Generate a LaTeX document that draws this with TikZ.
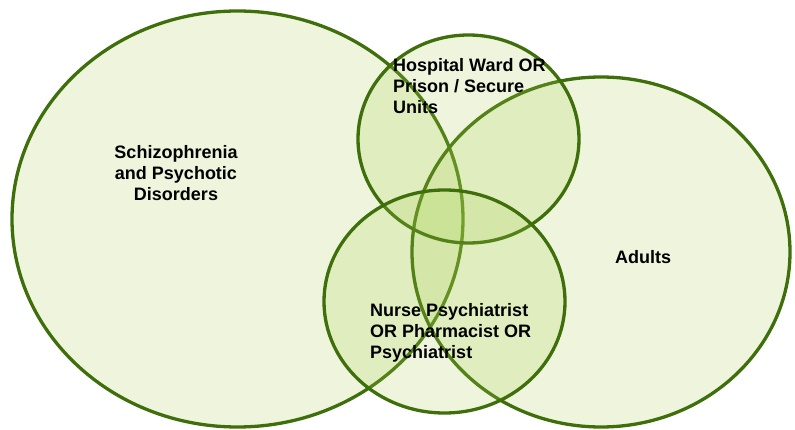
\documentclass[tikz,border=0pt]{standalone}
\usepackage{fontspec}
\setmainfont{Liberation Sans}
\usetikzlibrary{shapes.geometric}

\definecolor{vennline}{HTML}{3F6F0B}
\definecolor{vennfill}{HTML}{A8CF4E}

\tikzset{
	set/.style={ellipse, draw=vennline, line width=3.3pt, fill=vennfill, fill opacity=0.2, draw opacity=1, inner sep=0pt},
	setlabel/.style={inner sep=0pt, font=\fontsize{18}{21}\selectfont\bfseries, text=black}
}

\begin{document}
\begin{tikzpicture}[x=1pt, y=-1pt]
	\useasboundingbox (0,0) rectangle (795,430);
	% the four sets
	\node[set, minimum width=451pt, minimum height=416pt] (schiz) at (237.5,219) {};
	\node[set, minimum width=378pt, minimum height=350pt] (adults) at (601,252) {};
	\node[set, minimum width=221pt, minimum height=208pt] (ward) at (468.5,139) {};
	\node[set, minimum width=241pt, minimum height=223pt] (staff) at (444.5,301.5) {};

	% labels
	\node[setlabel, align=center] (schizlbl) at (176,173) {Schizophrenia\\and Psychotic\\Disorders};
	\node[setlabel] (adultslbl) at (643,257) {Adults};
	\node[setlabel, align=left, anchor=west] (wardlbl) at (393,86) {Hospital Ward OR\\Prison / Secure\\Units};
	\node[setlabel, align=left, anchor=west] (stafflbl) at (370,333) {Nurse Psychiatrist\\OR Pharmacist OR\\Psychiatrist};
\end{tikzpicture}
\end{document}
